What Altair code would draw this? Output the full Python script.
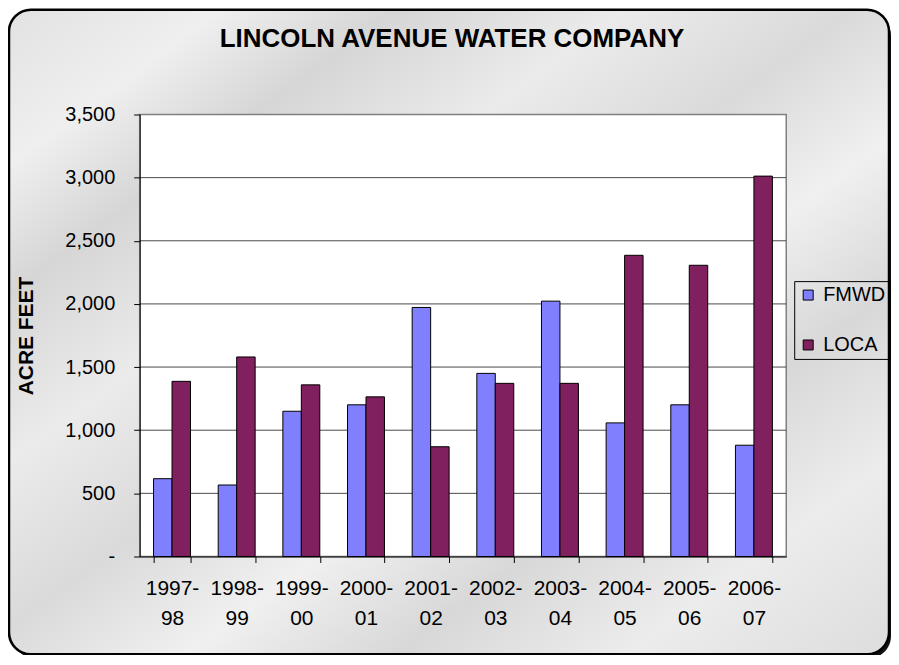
import altair as alt
import pandas as pd

categories = ["1997-98", "1998-99", "1999-00", "2000-01", "2001-02",
              "2002-03", "2003-04", "2004-05", "2005-06", "2006-07"]
fmwd = [616, 566, 1150, 1201, 1972, 1450, 2022, 1058, 1201, 881]
loca = [1387, 1580, 1359, 1264, 869, 1371, 1371, 2385, 2306, 3012]
series = ["FMWD", "LOCA"]
colors = ["#8080FF", "#80205F"]
y_ticks = [0, 500, 1000, 1500, 2000, 2500, 3000, 3500]
title_text = "LINCOLN AVENUE WATER COMPANY"
y_title = "ACRE FEET"

rows = []
for c, f, l in zip(categories, fmwd, loca):
    rows.append({"year": c, "series": "FMWD", "value": f})
    rows.append({"year": c, "series": "LOCA", "value": l})
df = pd.DataFrame(rows)

W, H = 648, 443
FONT = "Liberation Sans"
one = pd.DataFrame({"k": [0]})

yscale = alt.Scale(domain=[0, 3500], nice=False, zero=True)
yaxis = alt.Axis(values=y_ticks,
                 labelExpr="datum.value == 0 ? '-' : format(datum.value, ',')",
                 grid=False, domainColor="black", tickColor="black",
                 tickSize=6, labelFont=FONT, labelFontSize=20,
                 labelColor="black", labelPadding=19,
                 title=y_title, titleFont=FONT, titleFontSize=21,
                 titleFontWeight="bold", titleColor="black",
                 titleX=-113, titleY=H / 2, titleAngle=270,
                 titleBaseline="middle", titleAlign="center",
                 zindex=1)

marble = alt.LinearGradient(
    gradient="linear", x1=0, y1=0, x2=1, y2=1,
    stops=[
        alt.GradientStop(offset=0.0, color="#e2e2e2"),
        alt.GradientStop(offset=0.12, color="#efefef"),
        alt.GradientStop(offset=0.22, color="#d6d6d6"),
        alt.GradientStop(offset=0.35, color="#ebebeb"),
        alt.GradientStop(offset=0.48, color="#dadada"),
        alt.GradientStop(offset=0.6, color="#f0f0f0"),
        alt.GradientStop(offset=0.72, color="#d8d8d8"),
        alt.GradientStop(offset=0.85, color="#ececec"),
        alt.GradientStop(offset=1.0, color="#dddddd"),
    ],
)

shadow = alt.Chart(one).mark_rect(fill="#111111", cornerRadius=22).encode(
    x=alt.value(-127), x2=alt.value(753), y=alt.value(-101), y2=alt.value(545)
)
frame = alt.Chart(one).mark_rect(fill=marble, stroke="black", strokeWidth=2.5,
                                 cornerRadius=22).encode(
    x=alt.value(-131), x2=alt.value(751), y=alt.value(-105), y2=alt.value(541)
)
plotbg = alt.Chart(one).mark_rect(fill="white", stroke="#808080", strokeWidth=1.5).encode(
    x=alt.value(0), x2=alt.value(W), y=alt.value(0), y2=alt.value(H)
)
grid = alt.Chart(pd.DataFrame({"v": y_ticks[1:-1]})).mark_rule(
    color="#4a4a4a", strokeWidth=1
).encode(
    y=alt.Y("v:Q", scale=yscale, axis=yaxis),
    x=alt.value(0), x2=alt.value(W)
)

bars = alt.Chart(df).mark_bar(stroke="black", strokeWidth=1).encode(
    x=alt.X("year:N", sort=categories,
            scale=alt.Scale(paddingInner=1.5 / 3.5, paddingOuter=0.75 / 3.5),
            axis=alt.Axis(title=None, tickBand="extent", labelAngle=0,
                          labelExpr="[slice(datum.label, 0, 5), slice(datum.label, 5)]",
                          labelFont=FONT, labelFontSize=21, labelLineHeight=30,
                          labelColor="black", labelPadding=15, tickSize=6,
                          tickColor="black", domainColor="black", grid=False,
                          zindex=1)),
    xOffset=alt.XOffset("series:N", sort=series),
    y=alt.Y("value:Q", scale=yscale, axis=yaxis),
    color=alt.Color("series:N", scale=alt.Scale(domain=series, range=colors),
                    legend=alt.Legend(title=None, orient="none", legendX=656,
                                      legendY=167, direction="vertical",
                                      symbolType="square", symbolSize=100,
                                      symbolStrokeColor="black",
                                      symbolStrokeWidth=1, labelFont=FONT,
                                      labelFontSize=20, labelColor="black",
                                      strokeColor="black", padding=4,
                                      rowPadding=30, labelOffset=5)),
)

title = alt.Chart(pd.DataFrame({"t": [title_text]})).mark_text(
    font=FONT, fontSize=26, fontWeight="bold", align="center",
    baseline="alphabetic", color="black"
).encode(text="t:N", x=alt.value(313), y=alt.value(-68))

chart = alt.layer(shadow, frame, plotbg, grid, bars, title).properties(
    width=W, height=H, autosize="none",
    padding={"left": 132, "top": 106, "right": 105, "bottom": 98},
    background="white",
).configure_view(strokeWidth=0)

chart.save("out.html", embed_options={"renderer": "svg", "actions": False})
